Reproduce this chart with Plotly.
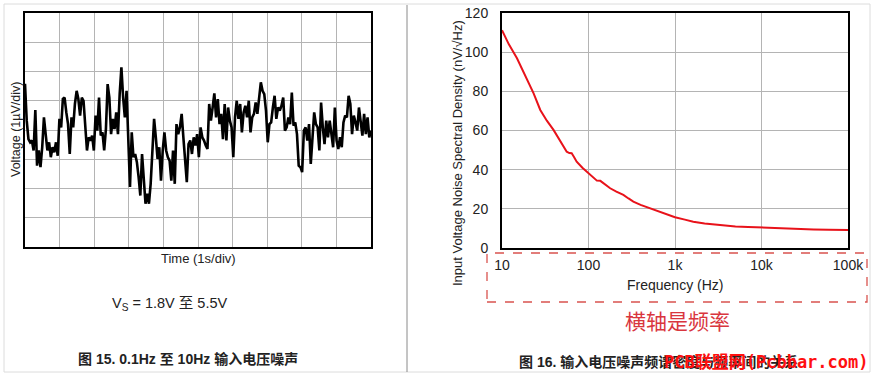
import numpy as np
import plotly.graph_objects as go

# ---- Data: left panel, 0.1Hz-10Hz noise trace (µV, 1 µV/div; time 0..10 s) ----
noise_uv = [
    1.58, 0.32, -0.31, -0.42, -0.36, -0.70, 0.68, -1.22, -0.70, -1.27,
    -0.59, 0.43, -0.14, -0.70, -0.42, -0.93, -0.59, -0.76, -0.42, -0.88,
    0.38, 0.09, 1.06, 1.11, 0.60, 0.20, -0.82, 0.43, 0.09, 0.89,
    1.34, 1.06, 0.49, 1.11, 1.00, 0.09, -0.70, -0.25, -0.36, -0.19,
    -0.70, 0.49, -0.02, 1.11, -0.19, -0.08, -0.70, 0.03, 1.57, 1.11,
    -0.14, 0.38, 0.03, 0.60, -0.14, 1.23, 2.14, 1.11, 0.43, 1.34,
    -0.25, -1.95, -0.08, -0.93, -0.82, -1.10, -1.61, -2.24, -0.82, -1.73,
    -2.52, -2.18, -2.52, -1.84, -0.70, 0.38, -0.25, -0.99, -0.59, -1.73,
    -0.70, -0.08, -0.70, -0.93, -1.05, -1.73, -0.70, -1.84, 0.20, -0.14,
    0.09, 0.55, -0.25, -1.05, -1.78, -0.48, -0.36, -0.82, -0.25, -0.53,
    -0.14, -0.93, 0.09, -0.25, -0.36, -0.53, -0.65, 0.89, 0.32, 0.77,
    1.25, 0.43, 1.06, 0.20, 0.55, -0.31, 0.89, -0.36, 0.77, 0.32,
    0.09, -0.93, 0.43, 1.00, 0.38, 0.89, -0.08, 0.60, 0.83, 0.43,
    1.00, -0.08, 0.43, 0.55, 0.94, 0.55, 1.00, 1.63, 1.34, 1.23,
    0.66, -0.42, 0.20, 0.26, 0.77, 1.17, 0.38, 0.77, 0.66, 0.83,
    1.11, -0.02, 0.09, 0.43, 0.20, 1.28, 0.15, 0.26, -0.14, -1.22,
    -1.27, -1.44, -0.02, 0.09, -0.36, 0.20, -1.16, -0.14, 0.60, 0.20,
    0.09, -0.70, 0.94, 0.09, -0.48, 0.32, -0.25, 0.32, -0.14, -0.59,
    0.77, -0.36, -0.65, -0.25, -0.59, 0.26, 0.49, 0.43, 1.17, 0.89,
    -0.14, 0.49, 0.26, -0.02, 0.77, 0.20, -0.19, 0.55, -0.14, 0.43,
    -0.25, -0.02,
]
time_s = np.linspace(0, 10, len(noise_uv))  # sample instants over 10 s

# ---- Data: right panel, input voltage noise spectral density ----
freq_hz = [10, 12, 14.9, 18, 23.2, 27.7, 33, 39.4, 47, 56, 60, 63.9, 68, 73, 85,
           100, 112, 125, 137, 150, 178, 210, 253, 290, 330, 400, 514, 670, 800,
           1000, 1300, 1626, 2200, 3162, 5000, 7000, 10000, 15000, 23200, 40000,
           60000, 100000]
density_nv = [111.2, 104.0, 96.9, 89.0, 79.0, 70.5, 65.0, 60.3, 54.5, 49.2, 48.5,
              48.4, 46.5, 44.1, 41.0, 38.1, 36.0, 34.4, 34.3, 33.0, 30.5, 28.8,
              27.1, 25.3, 23.7, 22.0, 20.3, 18.2, 17.0, 15.7, 14.5, 13.4, 12.5,
              11.7, 11.0, 10.7, 10.4, 10.1, 9.7, 9.5, 9.35, 9.2]

x_tickvals = [10, 100, 1000, 10000, 100000]
x_ticktext = ["10", "100", "1k", "10k", "100k"]
y_tickvals = [0, 20, 40, 60, 80, 100, 120]

W, H = 875, 377
def px(x):
    return x / W
def py(y):
    return 1 - y / H

LATIN = "Liberation Sans, Arial, Noto Sans CJK SC, sans-serif"
GRID = "#b4b4b4"

fig = go.Figure()
fig.add_trace(go.Scatter(x=time_s, y=noise_uv, mode="lines",
                         line=dict(color="black", width=2.6),
                         xaxis="x", yaxis="y", showlegend=False, hoverinfo="skip"))
fig.add_trace(go.Scatter(x=freq_hz, y=density_nv, mode="lines",
                         line=dict(color="#e8121a", width=2.0),
                         xaxis="x2", yaxis="y2", showlegend=False, hoverinfo="skip"))

fig.update_layout(
    template="none",
    width=W, height=H, autosize=False,
    margin=dict(l=0, r=0, t=0, b=0, pad=0, autoexpand=False),
    paper_bgcolor="white", plot_bgcolor="white",
    font=dict(family=LATIN, color="#222"),
    xaxis=dict(domain=[px(25), px(371)], range=[0, 10], dtick=1, tick0=0,
               showgrid=True, gridcolor=GRID, gridwidth=1, showticklabels=False,
               ticks="", zeroline=False, showline=True, mirror=True, automargin=False,
               linecolor="black", linewidth=2, anchor="y"),
    yaxis=dict(domain=[py(247), py(13)], range=[-4, 4], dtick=1, tick0=0,
               showgrid=True, gridcolor=GRID, gridwidth=1, showticklabels=False,
               ticks="", zeroline=False, showline=True, mirror=True, automargin=False,
               linecolor="black", linewidth=2, anchor="x"),
    xaxis2=dict(domain=[px(502), px(848)], type="log", range=[1, 5],
                tickvals=x_tickvals, ticktext=x_ticktext,
                showgrid=True, gridcolor=GRID, gridwidth=1, ticks="",
                tickfont=dict(size=14, color="#222"), ticklabelstandoff=3,
                zeroline=False, showline=True, mirror=True, automargin=False,
                linecolor="black", linewidth=2, anchor="y2"),
    yaxis2=dict(domain=[py(248), py(13)], range=[0, 120], tickvals=y_tickvals,
                showgrid=True, gridcolor=GRID, gridwidth=1, ticks="",
                tickfont=dict(size=14, color="#222"), ticklabelstandoff=9,
                zeroline=False, showline=True, mirror=True, automargin=False,
                linecolor="black", linewidth=2, anchor="x2"),
)

shapes = [
    dict(type="rect", xref="paper", yref="paper", x0=px(4), x1=px(870),
         y0=py(372), y1=py(4), line=dict(color="#dcdcdc", width=1)),
    dict(type="line", xref="paper", yref="paper", x0=px(407), x1=px(407),
         y0=py(372), y1=py(5), line=dict(color="#8a8a8a", width=1)),
    dict(type="rect", xref="paper", yref="paper", x0=px(487), x1=px(867),
         y0=py(302), y1=py(253), line=dict(color="#d9534f", width=1.3, dash="dash")),
]
fig.update_layout(shapes=shapes)

ann = [
    dict(text="Time (1s/div)", x=px(198), y=py(258), font=dict(size=13)),
    dict(text="Voltage (1µV/div)", x=px(16), y=py(130), textangle=-90,
         font=dict(size=12.5)),
    dict(text="V<sub>S</sub> = 1.8V 至 5.5V", x=px(170), y=py(304),
         font=dict(size=14.5)),
    dict(text="<b>图 15. 0.1Hz 至 10Hz 输入电压噪声</b>", x=px(188), y=py(359),
         font=dict(size=14)),
    dict(text="Input Voltage Noise Spectral Density (nV/√Hz)", x=px(457),
         y=py(153), textangle=-90, font=dict(size=13)),
    dict(text="Frequency (Hz)", x=px(675), y=py(285), font=dict(size=14)),
    dict(text="横轴是频率", x=px(677), y=py(320),
         font=dict(size=21, color="#d9363e", family="Noto Sans CJK SC")),
    dict(text="<b>图 16. 输入电压噪声频谱密度与频率间的关系</b>", x=px(517),
         y=py(362), xanchor="left", font=dict(size=14)),
    dict(text="<b>PCB联盟网(Pcbbar.com)</b>", x=px(871), y=py(362),
         xanchor="right",
         font=dict(size=17, color="#ff1010",
                   family="DejaVu Sans Mono, Noto Sans CJK SC, monospace")),
]
for a in ann:
    a.setdefault("xanchor", "center")
    a.update(xref="paper", yref="paper", yanchor="middle", showarrow=False)
    a["font"].setdefault("color", "#222")
fig.update_layout(annotations=ann)

fig.write_html(
    "out.html",
    config={"responsive": False, "displayModeBar": False},
    post_script="document.body.style.margin='0px';"
                "document.documentElement.style.overflow='hidden';",
)
